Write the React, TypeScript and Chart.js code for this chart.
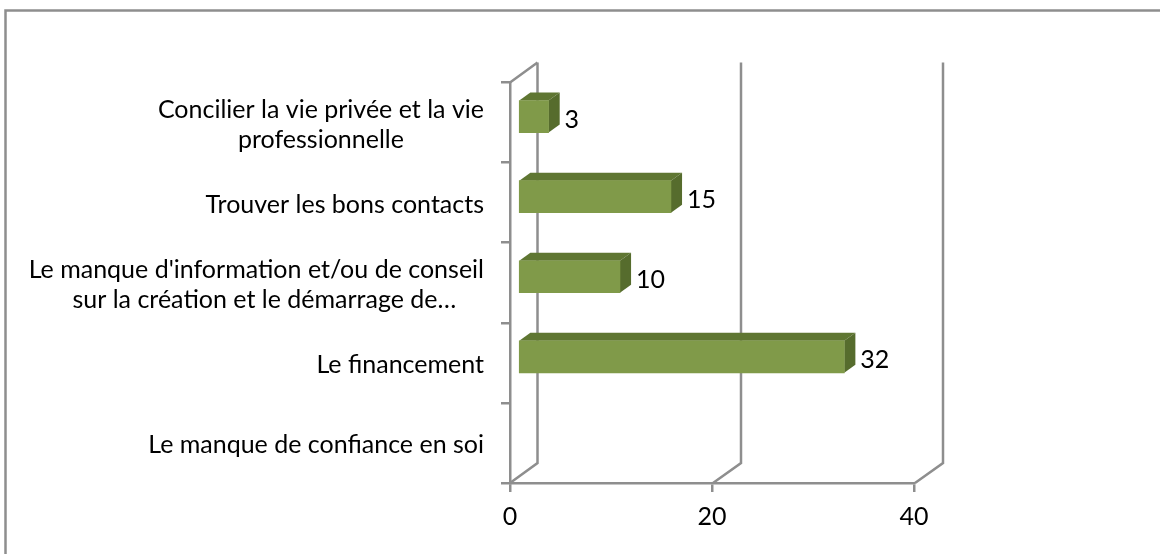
import React, { useEffect, useRef } from "react";
import { Chart, registerables } from "chart.js";

Chart.register(...registerables);

const categories: string[][] = [
  ["Concilier la vie privée et la vie", "professionnelle"],
  ["Trouver les bons contacts"],
  ["Le manque d'information et/ou de conseil", "sur la création et le démarrage de…"],
  ["Le financement"],
  ["Le manque de confiance en soi"],
];
const values: (number | null)[] = [3, 15, 10, 32, null];
const xTicks: number[] = [0, 20, 40];

const FONT = "Lato";
const FONT_SIZE = 25;
const GRID = "#8e8e8e";
const FRONT = "#809a49";
const TOP = "#5f7632";
const SIDE = "#566c2d";
const DEPTH_Y = 20;
const BAR_DX = 8;
const BAR_DY = -6;
const BAR_STRETCH = 1.0095;
const BAR_DEPTH_X = 11;
const BAR_DEPTH_Y = 8;

const decor = {
  id: "decor",
  beforeDraw(chart: any) {
    const { ctx, scales } = chart;
    const x = scales.x;
    const area = chart.chartArea;
    ctx.save();
    ctx.strokeStyle = GRID;
    ctx.lineWidth = 2.5;
    ctx.beginPath();
    ctx.moveTo(1160, 10.5);
    ctx.lineTo(5.5, 10.5);
    ctx.lineTo(5.5, 554);
    ctx.stroke();
    ctx.beginPath();
    xTicks.forEach((t) => {
      const px = Math.round(x.getPixelForValue(t));
      const start = t === 0 ? px : px + 1;
      const back = t === 0 ? px + 27.5 : px + 29;
      ctx.moveTo(start, area.bottom);
      ctx.lineTo(back, area.bottom - DEPTH_Y);
      ctx.lineTo(back, area.top - DEPTH_Y);
    });
    const x0 = Math.round(x.getPixelForValue(0));
    ctx.moveTo(x0, area.top);
    ctx.lineTo(x0 + 27.5, area.top - DEPTH_Y);
    ctx.stroke();
    ctx.restore();
  },
  beforeDatasetDraw(chart: any) {
    const { ctx } = chart;
    const meta = chart.getDatasetMeta(0);
    const x0 = chart.scales.x.getPixelForValue(0);
    ctx.save();
    ctx.translate(BAR_DX + x0, BAR_DY);
    ctx.scale(BAR_STRETCH, 1);
    ctx.translate(-x0, 0);
    meta.data.forEach((el: any, i: number) => {
      if (values[i] == null) return;
      const h = el.height / 2;
      const r = el.x;
      const l = el.base;
      ctx.fillStyle = TOP;
      ctx.beginPath();
      ctx.moveTo(l, el.y - h);
      ctx.lineTo(l + BAR_DEPTH_X, el.y - h - BAR_DEPTH_Y);
      ctx.lineTo(r + BAR_DEPTH_X, el.y - h - BAR_DEPTH_Y);
      ctx.lineTo(r, el.y - h);
      ctx.closePath();
      ctx.fill();
      ctx.fillStyle = SIDE;
      ctx.beginPath();
      ctx.moveTo(r, el.y - h);
      ctx.lineTo(r + BAR_DEPTH_X, el.y - h - BAR_DEPTH_Y);
      ctx.lineTo(r + BAR_DEPTH_X, el.y + h - BAR_DEPTH_Y);
      ctx.lineTo(r, el.y + h);
      ctx.closePath();
      ctx.fill();
    });
  },
  afterDatasetDraw(chart: any) {
    const { ctx } = chart;
    const meta = chart.getDatasetMeta(0);
    const x0 = chart.scales.x.getPixelForValue(0);
    ctx.restore();
    ctx.save();
    ctx.fillStyle = "#000000";
    ctx.font = `${FONT_SIZE}px ${FONT}`;
    ctx.textAlign = "left";
    ctx.textBaseline = "middle";
    meta.data.forEach((el: any, i: number) => {
      if (values[i] == null) return;
      const right = x0 + (el.x - x0) * BAR_STRETCH + BAR_DX;
      ctx.fillText(String(values[i]), right + BAR_DEPTH_X + 5, el.y + BAR_DY + 3);
    });
    ctx.restore();
  },
  afterDraw(chart: any) {
    const { ctx, scales } = chart;
    const y = scales.y;
    ctx.save();
    ctx.fillStyle = "#000000";
    ctx.font = `${FONT_SIZE}px ${FONT}`;
    ctx.textBaseline = "middle";
    ctx.textAlign = "center";
    const right = 484;
    y.ticks.forEach((_: any, i: number) => {
      const lines = categories[i];
      const cy = y.getPixelForTick(i) + 2;
      const centre = right - ctx.measureText(lines[0]).width / 2;
      const lineH = 30;
      lines.forEach((line, k) => {
        // The truncated second line sits a little right of the line above it.
        const shift = line.endsWith("…") ? 8 : 0;
        ctx.fillText(line, centre + shift, cy + (k - (lines.length - 1) / 2) * lineH);
      });
    });
    ctx.restore();
  },
};

export default function App() {
  const ref = useRef<HTMLCanvasElement>(null);
  useEffect(() => {
    const chart = new Chart(ref.current!, {
      type: "bar",
      data: {
        labels: categories,
        datasets: [
          {
            data: values,
            backgroundColor: FRONT,
            barThickness: 32,
          },
        ],
      },
      plugins: [decor],
      options: {
        indexAxis: "y",
        responsive: false,
        animation: false,
        layout: { padding: { left: 501, right: 246, top: 82.5, bottom: 0 } },
        plugins: { legend: { display: false }, tooltip: { enabled: false } },
        scales: {
          x: {
            min: 0,
            max: 40,
            afterFit(s: any) {
              s.height = 71;
            },
            afterBuildTicks(s: any) {
              s.ticks = xTicks.map((value) => ({ value }));
            },
            grid: {
              drawOnChartArea: false,
              drawTicks: true,
              tickLength: 9,
              color: GRID,
              lineWidth: 2.5,
            },
            border: { color: GRID, width: 2.5 },
            ticks: {
              color: "#000000",
              padding: 10,
              maxRotation: 0,
              font: { family: FONT, size: FONT_SIZE },
            },
          },
          y: {
            afterFit(s: any) {
              s.width = 9;
            },
            grid: {
              drawOnChartArea: false,
              drawTicks: true,
              tickLength: 9,
              color: GRID,
              lineWidth: 2.5,
            },
            border: { color: GRID, width: 2.5 },
            ticks: { display: false },
          },
        },
      } as any,
    });
    return () => chart.destroy();
  }, []);
  return (
    <canvas
      ref={ref}
      width={1160}
      height={554}
      style={{ position: "fixed", left: 0, top: 0, display: "block" }}
    />
  );
}
